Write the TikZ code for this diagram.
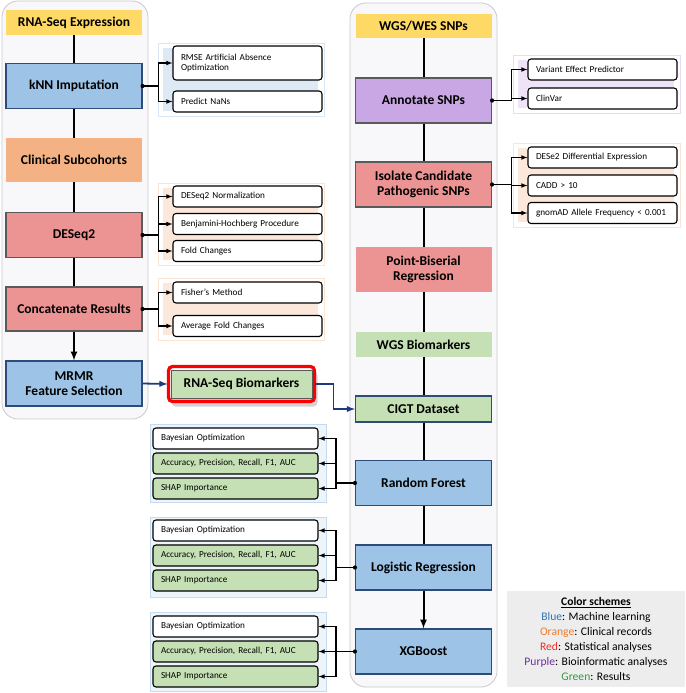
\documentclass[tikz,border=0pt]{standalone}
\usepackage{fontspec}
\setmainfont{Carlito}
\usetikzlibrary{shadows}
\definecolor{cyellow}{HTML}{FFD966}
\definecolor{cblue}{HTML}{9DC3E6}
\definecolor{corange}{HTML}{F4B183}
\definecolor{cred}{HTML}{EC9494}
\definecolor{cpurple}{HTML}{C9A6E4}
\definecolor{cgreen}{HTML}{C5E0B4}
\definecolor{edgeblue}{HTML}{2F4B7A}
\definecolor{edgegray}{HTML}{5A5A5A}
\definecolor{navy}{HTML}{1F3A7A}
\definecolor{panelbg}{HTML}{F8F8FB}
\definecolor{panelline}{HTML}{C9C9CF}
\definecolor{keyblue}{HTML}{2E75B6}
\definecolor{keyorange}{HTML}{ED7D31}
\definecolor{keyred}{HTML}{E8302A}
\definecolor{keypurple}{HTML}{7030A0}
\definecolor{keygreen}{HTML}{2E9E3A}
\begin{document}
\begin{tikzpicture}
  [x=1pt,y=-1pt,>=latex,
   stage/.style={minimum width=136pt,minimum height=45pt,inner sep=0pt,align=center,
     font=\fontsize{13.5}{15.5}\selectfont\bfseries},
   sub/.style={draw,line width=1.1pt,rounded corners=3pt,fill=white,minimum height=21pt,
     inner xsep=8pt,inner ysep=0pt,text width=133pt,align=left,font=\fontsize{9.2}{10.5}\selectfont},
   msub/.style={sub,text width=149pt},
   trunk/.style={line width=2pt},
   branch/.style={line width=1.1pt,->},
   navyarrow/.style={navy,line width=1.8pt,->}]
  \useasboundingbox (0,0) rectangle (685,693);
  % panels
  \draw[panelline,fill=panelbg,rounded corners=16pt,line width=0.8pt] (2,1) rectangle (148,419);
  \draw[panelline,fill=panelbg,rounded corners=16pt,line width=0.8pt] (350,3) rectangle (497,687);
  % group backgrounds
  \draw[cblue!40,fill=white,line width=0.6pt] (158,43) rectangle (324,116);
  \fill[cblue!35] (163,48) rectangle (318,111);
  \draw[corange!35,fill=white,line width=0.6pt] (158,183) rectangle (324,265);
  \fill[corange!30] (163,188) rectangle (318,260);
  \draw[corange!35,fill=white,line width=0.6pt] (158,278) rectangle (324,340);
  \fill[corange!30] (163,283) rectangle (318,335);
  \draw[cpurple!40,fill=white,line width=0.6pt] (513,55) rectangle (680,113);
  \fill[cpurple!30] (518,60) rectangle (674,108);
  \draw[corange!35,fill=white,line width=0.6pt] (513,143) rectangle (680,227);
  \fill[corange!30] (518,148) rectangle (674,222);
  \foreach \top/\bot in {424/502,517/597,612/691}
    \draw[cblue!60,fill=cblue!18,line width=0.6pt] (150,\top) rectangle (326,\bot);

  % left column
  \node[stage,fill=cyellow,minimum height=25pt] (rna) at (74,22.5) {RNA-Seq Expression};
  \node[stage,fill=cblue,draw=edgeblue,line width=1.1pt] (knn) at (74,86) {kNN Imputation};
  \node[stage,fill=corange,minimum height=44pt] (clin) at (74,160) {Clinical Subcohorts};
  \node[stage,fill=cred,draw=edgegray,line width=1.1pt] (deseq) at (74,235) {DESeq2};
  \node[stage,fill=cred,draw=edgegray,line width=1.1pt,minimum height=44pt] (concat) at (74,309) {Concatenate Results};
  \node[stage,fill=cblue,draw=edgeblue,line width=1.1pt] (mrmr) at (74,383.5) {MRMR\\Feature Selection};

  % right column
  \node[stage,fill=cyellow,minimum height=24pt] (wgs) at (423.5,26) {WGS/WES SNPs};
  \node[stage,fill=cpurple,draw=edgegray,line width=1.1pt] (annot) at (423.5,100.5) {Annotate SNPs};
  \node[stage,fill=cred,draw=edgegray,line width=1.1pt] (iso) at (423.5,184.5) {Isolate Candidate\\Pathogenic SNPs};
  \node[stage,fill=cred] (pbr) at (423.5,269.5) {Point-Biserial\\Regression};
  \node[stage,fill=cgreen,minimum height=25pt] (wgsbio) at (423.5,344.5) {WGS Biomarkers};
  \node[stage,fill=cgreen,draw=edgeblue,line width=1.1pt,minimum height=26pt] (cigt) at (423.5,409) {CIGT Dataset};
  \node[stage,fill=cblue,draw=edgeblue,line width=1.1pt] (rf) at (423.5,483) {Random Forest};
  \node[stage,fill=cblue,draw=edgeblue,line width=1.1pt] (lr) at (423.5,567.5) {Logistic Regression};
  \node[stage,fill=cblue,draw=edgeblue,line width=1.1pt] (xgb) at (423.5,651.5) {XGBoost};

  % biomarker box with red frame
  \draw[red,line width=3.2pt,rounded corners=4pt,drop shadow={opacity=0.35,shadow xshift=3pt,shadow yshift=-5pt}]
    (168.5,366.5) rectangle (314.5,401.5);
  \node[stage,fill=cgreen,draw=edgegray,line width=0.9pt,minimum width=141pt,minimum height=28pt] (rnabio) at (241.5,384) {RNA-Seq Biomarkers};

  % left sub steps
  \node[sub,minimum height=34pt] (rmse) at (247.5,63) {RMSE Artificial Absence\\Optimization};
  \node[sub] (nans) at (247.5,101.5) {Predict NaNs};
  \node[sub] (norm) at (247.5,196.5) {DESeq2 Normalization};
  \node[sub] (bh) at (247.5,224) {Benjamini-Hochberg Procedure};
  \node[sub] (fold) at (247.5,251) {Fold Changes};
  \node[sub] (fisher) at (247.5,292.5) {Fisher’s Method};
  \node[sub] (avg) at (247.5,326) {Average Fold Changes};

  % right sub steps
  \node[sub] (vep) at (602.5,69.5) {Variant Effect Predictor};
  \node[sub] (clinvar) at (602.5,98.5) {ClinVar};
  \node[sub] (dese) at (602.5,157.5) {DESe2 Differential Expression};
  \node[sub] (cadd) at (602.5,185.5) {CADD > 10};
  \node[sub] (gnomad) at (602.5,213) {gnomAD Allele Frequency < 0.001};

  % model outputs
  \foreach \m/\y in {rf/438.5,lr/530.5,xgb/626.5}{
    \node[msub] (\m bay) at (235.5,\y) {Bayesian Optimization};
    \node[msub,fill=cgreen] (\m acc) at (235.5,\y+25) {Accuracy, Precision, Recall, F1, AUC};
    \node[msub,fill=cgreen] (\m shap) at (235.5,\y+50) {SHAP Importance};
  }

  % trunks
  \draw[trunk] (rna) -- (knn) -- (clin) -- (deseq) -- (concat);
  \draw[trunk,->] (concat) -- (mrmr);
  \draw[trunk] (wgs) -- (annot) -- (iso) -- (pbr) -- (wgsbio) -- (cigt) -- (rf) -- (lr);
  \draw[trunk,->] (lr) -- (xgb);

  % branches
  \foreach \s/\t in {knn/rmse,knn/nans,deseq/norm,deseq/bh,deseq/fold,concat/fisher,concat/avg}
    \draw[branch] (\s.east) -- ++(16,0) |- (\t.west);
  \foreach \s/\t in {annot/vep,annot/clinvar,iso/dese,iso/cadd,iso/gnomad}
    \draw[branch] (\s.east) -- ++(19,0) |- (\t.west);
  \foreach \m in {rf,lr,xgb}{
    \foreach \t in {bay,acc,shap}
      \draw[branch] (\m.west) -- ++(-19,0) |- (\m\t.east);
  }
  \foreach \s in {knn,deseq,concat,annot,iso}
    \fill (\s.east) circle (2.1pt);
  \foreach \s in {rf,lr,xgb}
    \fill (\s.west) circle (2.1pt);

  % biomarker links
  \draw[navyarrow] (mrmr.east) -- ([xshift=-3pt]rnabio.west);
  \draw[navyarrow] ([xshift=3pt]rnabio.east) -- ++(18,0) |- (cigt.west);

  % legend
  \node[fill=black!7,minimum width=178pt,minimum height=96pt,align=center,
    font=\fontsize{11.6}{15}\selectfont] (key) at (596,639)
    {\underline{\textbf{Color schemes}}\\
     \textcolor{keyblue}{Blue}: Machine learning\\
     \textcolor{keyorange}{Orange}: Clinical records\\
     \textcolor{keyred}{Red}: Statistical analyses\\
     \textcolor{keypurple}{Purple}: Bioinformatic analyses\\
     \textcolor{keygreen}{Green}: Results};
\end{tikzpicture}
\end{document}
